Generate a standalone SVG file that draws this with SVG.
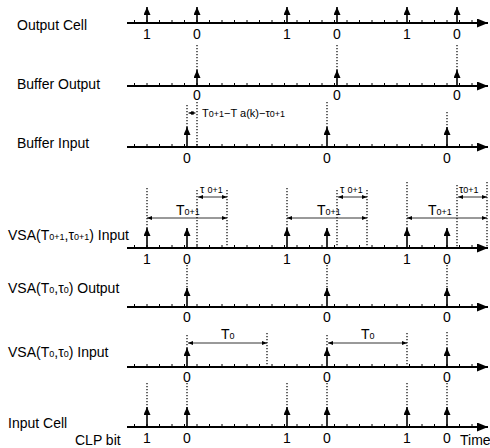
<svg xmlns="http://www.w3.org/2000/svg" xmlns:xlink="http://www.w3.org/1999/xlink" width="490" height="448" viewBox="0 0 490 448">
<style>
text{font-family:"Liberation Sans",Arial,sans-serif;fill:#000}
.lbl{font-size:14px}
.dg{font-size:14px;text-anchor:middle}
.sm{font-size:11px}
.sub{font-size:9px}
.ax{stroke:#000;stroke-width:2;fill:none}
.tk{stroke:#000;stroke-width:1;fill:none}
.imp{stroke:#000;stroke-width:1.6;fill:none;marker-end:url(#ih)}
.dot{stroke:#000;stroke-width:1.2;stroke-dasharray:1.2 1.8;fill:none}
.dim{stroke:#000;stroke-width:0.8;fill:none;marker-start:url(#dh);marker-end:url(#dh)}
</style>
<defs>
<marker id="ah" markerUnits="userSpaceOnUse" markerWidth="12" markerHeight="10" refX="11" refY="4.5" orient="auto"><path d="M0,0 L11,4.5 L0,9 z" fill="#000"/></marker>
<marker id="ih" markerUnits="userSpaceOnUse" markerWidth="9" markerHeight="8" refX="8" refY="3.5" orient="auto"><path d="M0,0 L8,3.5 L0,7 z" fill="#000"/></marker>
<marker id="dh" markerUnits="userSpaceOnUse" markerWidth="6" markerHeight="5" refX="5" refY="2" orient="auto-start-reverse"><path d="M0,0 L5,2 L0,4 z" fill="#000"/></marker>
<g id="axis">
<path class="ax" d="M127,0 H488" marker-end="url(#ah)"/>
<path class="tk" d="M134.5,0v-3M147,0v-3M159.5,0v-3M172,0v-3M184.5,0v-3M197,0v-3M209.5,0v-3M222,0v-3M234.5,0v-3M247,0v-3M259.5,0v-3M272,0v-3M284.5,0v-3M297,0v-3M309.5,0v-3M322,0v-3M334.5,0v-3M347,0v-3M359.5,0v-3M372,0v-3M384.5,0v-3M397,0v-3M409.5,0v-3M422,0v-3M434.5,0v-3M447,0v-3M459.5,0v-3M472,0v-3"/>
</g>
</defs>

<g id="output-cell">
<text class="lbl" x="17" y="30">Output Cell</text>
<use xlink:href="#axis" y="23"/>
<path class="imp" d="M147,23V7"/><path class="imp" d="M197,23V7"/><path class="imp" d="M287,23V7"/>
<path class="imp" d="M337,23V7"/><path class="imp" d="M407,23V7"/><path class="imp" d="M457,23V7"/>
<text class="dg" x="147" y="39">1</text><text class="dg" x="197" y="39">0</text>
<text class="dg" x="287" y="39">1</text><text class="dg" x="337" y="39">0</text>
<text class="dg" x="407" y="39">1</text><text class="dg" x="457" y="39">0</text>
</g>

<g id="buffer-output">
<text class="lbl" x="17" y="89">Buffer Output</text>
<use xlink:href="#axis" y="86"/>
<path class="imp" d="M197,86V70"/><path class="imp" d="M337,86V70"/><path class="imp" d="M457,86V70"/>
<text class="dg" x="197" y="100">0</text><text class="dg" x="337" y="100">0</text><text class="dg" x="457" y="100">0</text>
</g>

<g id="buffer-input">
<text class="lbl" x="17" y="148">Buffer Input</text>
<use xlink:href="#axis" y="147"/>
<path class="imp" d="M187,147V127"/><path class="imp" d="M327,147V127"/><path class="imp" d="M447,147V127"/>
<text class="dg" x="187" y="163">0</text><text class="dg" x="327" y="163">0</text><text class="dg" x="447" y="163">0</text>
<path class="dim" d="M188.5,113H195.5"/>
<text class="sm" x="202" y="117">T<tspan class="sub">0+1</tspan>−T a(k)−τ<tspan class="sub">0+1</tspan></text>
</g>

<g id="vsa1-input">
<text class="lbl" x="8" y="240">VSA(T<tspan class="sub">0+1</tspan>,τ<tspan class="sub">0+1</tspan>) Input</text>
<use xlink:href="#axis" y="248"/>
<path class="imp" d="M147,248V228"/><path class="imp" d="M187,248V228"/><path class="imp" d="M287,248V228"/>
<path class="imp" d="M327,248V228"/><path class="imp" d="M407,248V228"/><path class="imp" d="M447,248V228"/>
<text class="dg" x="147" y="264">1</text><text class="dg" x="187" y="264">0</text>
<text class="dg" x="287" y="264">1</text><text class="dg" x="327" y="264">0</text>
<text class="dg" x="407" y="264">1</text><text class="dg" x="447" y="264">0</text>
<path class="dim" d="M198,197H227"/><path class="dim" d="M338,197H367"/><path class="dim" d="M458,197H487"/>
<path class="dim" d="M147,218H227"/><path class="dim" d="M287,218H367"/><path class="dim" d="M407,218H487"/>
<text class="sm" x="200" y="193">τ <tspan class="sub">0+1</tspan></text>
<text class="sm" x="340" y="193">τ <tspan class="sub">0+1</tspan></text>
<text class="sm" x="459" y="193">τ<tspan class="sub">0+1</tspan></text>
<text class="lbl" x="176" y="215">T<tspan class="sub">0+1</tspan></text>
<text class="lbl" x="317" y="215">T<tspan class="sub">0+1</tspan></text>
<text class="lbl" x="428" y="215">T<tspan class="sub">0+1</tspan></text>
</g>

<g id="vsa0-output">
<text class="lbl" x="8" y="293">VSA(T<tspan class="sub">0</tspan>,τ<tspan class="sub">0</tspan>) Output</text>
<use xlink:href="#axis" y="307"/>
<path class="imp" d="M187,307V288"/><path class="imp" d="M327,307V288"/><path class="imp" d="M447,307V288"/>
<text class="dg" x="187" y="322">0</text><text class="dg" x="327" y="322">0</text><text class="dg" x="447" y="322">0</text>
</g>

<g id="vsa0-input">
<text class="lbl" x="8" y="357">VSA(T<tspan class="sub">0</tspan>,τ<tspan class="sub">0</tspan>) Input</text>
<use xlink:href="#axis" y="367"/>
<path class="imp" d="M187,367V348"/><path class="imp" d="M327,367V348"/><path class="imp" d="M447,367V348"/>
<text class="dg" x="187" y="382">0</text><text class="dg" x="327" y="382">0</text><text class="dg" x="447" y="382">0</text>
<path class="dim" d="M188,343H267"/><path class="dim" d="M328,343H407"/>
<text class="lbl" x="221" y="339">T<tspan class="sub">0</tspan></text>
<text class="lbl" x="361" y="339">T<tspan class="sub">0</tspan></text>
</g>

<g id="input-cell">
<text class="lbl" x="8" y="428">Input Cell</text>
<use xlink:href="#axis" y="427"/>
<path class="imp" d="M147,427V407"/><path class="imp" d="M187,427V407"/><path class="imp" d="M287,427V407"/>
<path class="imp" d="M327,427V407"/><path class="imp" d="M407,427V407"/><path class="imp" d="M447,427V407"/>
<text class="lbl" x="75" y="445">CLP bit</text>
<text class="dg" x="147" y="443">1</text><text class="dg" x="187" y="443">0</text>
<text class="dg" x="287" y="443">1</text><text class="dg" x="327" y="443">0</text>
<text class="dg" x="407" y="443">1</text><text class="dg" x="447" y="443">0</text>
<text class="lbl" x="460" y="445">Time</text>
</g>

<g id="connectors">
<path class="dot" d="M197,45V70M337,45V70M457,45V70"/>
<path class="dot" d="M197,102V147M187,105V127M327,102V127M447,112V127"/>
<path class="dot" d="M147,188V228M197,190V248M227,190V248M287,188V228M337,190V248M367,190V248M407,182V228M457,185V248M487,182V248"/>
<path class="dot" d="M187,265V288M327,265V288M447,265V288"/>
<path class="dot" d="M187,335V348M267,333V367M327,335V348M407,333V367M447,332V348"/>
<path class="dot" d="M147,383V407M187,383V407M287,383V407M327,383V407M407,383V407M447,383V407"/>
</g>
</svg>
